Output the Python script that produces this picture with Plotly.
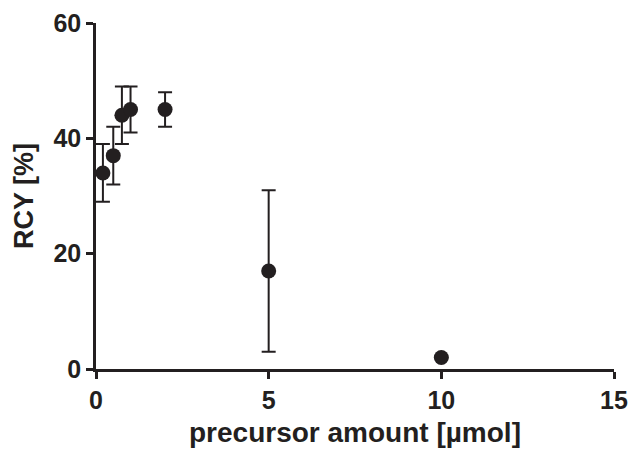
import plotly.graph_objects as go

amount = [0.2, 0.5, 0.75, 1.0, 2.0, 5.0, 10.0]
rcy = [34, 37, 44, 45, 45, 17, 2]
rcy_err = [5, 5, 5, 4, 3, 14, 0]

x_ticks = [0, 5, 10, 15]
y_ticks = [0, 20, 40, 60]

ink = "#231f20"
font = "Liberation Sans, Arial, sans-serif"

fig = go.Figure(go.Scatter(
    x=amount, y=rcy, mode="markers",
    marker=dict(size=15, color=ink),
    error_y=dict(type="data", array=rcy_err, visible=True, color=ink, thickness=2, width=7),
    cliponaxis=False,
))

axis_common = dict(
    showgrid=False, zeroline=False, showline=True, linecolor=ink, linewidth=2.5,
    ticks="outside", ticklen=7, tickwidth=2.5, tickcolor=ink,
    tickfont=dict(family=font, size=25, color=ink),
    automargin=False,
)

fig.update_layout(
    width=630, height=453,
    margin=dict(l=96, r=16, t=23, b=84),
    paper_bgcolor="white", plot_bgcolor="white",
    showlegend=False,
    xaxis=dict(range=[0, 15], tickvals=x_ticks, ticktext=[f"<b>{v}</b>" for v in x_ticks],
               title=dict(text="<b>precursor amount [µmol]</b>", font=dict(family=font, size=28, color=ink), standoff=10),
               **axis_common),
    yaxis=dict(range=[0, 60], tickvals=y_ticks, ticktext=[f"<b>{v}</b>" for v in y_ticks],
               title=dict(text="<b>RCY [%]</b>", font=dict(family=font, size=27, color=ink), standoff=12),
               **axis_common),
)

fig.write_html(
    "out.html",
    config={"displayModeBar": False},
    post_script="document.body.style.margin='0';document.body.style.overflow='hidden';",
)
